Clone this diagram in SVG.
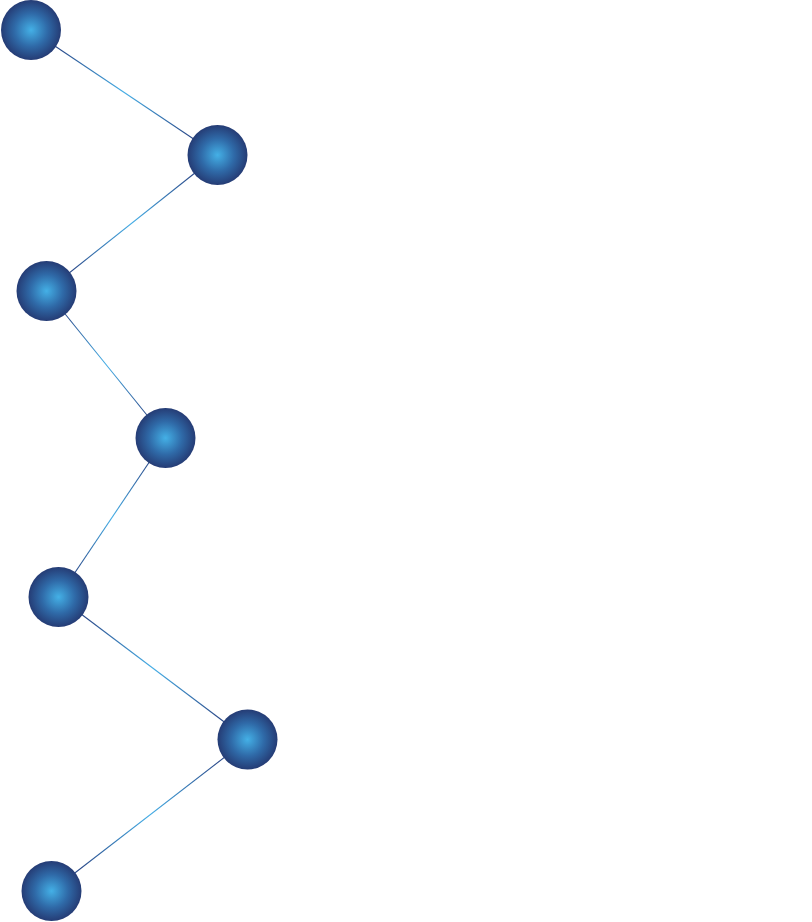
<svg xmlns="http://www.w3.org/2000/svg" width="812" height="922" viewBox="0 0 812 922">
<defs>
<radialGradient id="ball" cx="0.5" cy="0.5" r="0.5">
<stop offset="0" stop-color="#44b0e6"/>
<stop offset="0.55" stop-color="#2f6aa8"/>
<stop offset="1" stop-color="#253c75"/>
</radialGradient>
<linearGradient id="g1" gradientUnits="userSpaceOnUse" x1="31" y1="30" x2="217.5" y2="155"><stop offset="0.15" stop-color="#2a4a8a"/><stop offset="0.5" stop-color="#45aee6"/><stop offset="0.85" stop-color="#2a4a8a"/></linearGradient>
<linearGradient id="g2" gradientUnits="userSpaceOnUse" x1="217.5" y1="155" x2="46.5" y2="291"><stop offset="0.15" stop-color="#2a4a8a"/><stop offset="0.5" stop-color="#45aee6"/><stop offset="0.85" stop-color="#2a4a8a"/></linearGradient>
<linearGradient id="g3" gradientUnits="userSpaceOnUse" x1="46.5" y1="291" x2="165.5" y2="438"><stop offset="0.15" stop-color="#2a4a8a"/><stop offset="0.5" stop-color="#45aee6"/><stop offset="0.85" stop-color="#2a4a8a"/></linearGradient>
<linearGradient id="g4" gradientUnits="userSpaceOnUse" x1="165.5" y1="438" x2="58.5" y2="597"><stop offset="0.15" stop-color="#2a4a8a"/><stop offset="0.5" stop-color="#45aee6"/><stop offset="0.85" stop-color="#2a4a8a"/></linearGradient>
<linearGradient id="g5" gradientUnits="userSpaceOnUse" x1="58.5" y1="597" x2="247.5" y2="739.5"><stop offset="0.15" stop-color="#2a4a8a"/><stop offset="0.5" stop-color="#45aee6"/><stop offset="0.85" stop-color="#2a4a8a"/></linearGradient>
<linearGradient id="g6" gradientUnits="userSpaceOnUse" x1="247.5" y1="739.5" x2="51.5" y2="891"><stop offset="0.15" stop-color="#2a4a8a"/><stop offset="0.5" stop-color="#45aee6"/><stop offset="0.85" stop-color="#2a4a8a"/></linearGradient>
</defs>
<style>
.node circle{fill:url(#ball);}
.conn line{stroke-width:1.1;fill:none;}
</style>
<rect width="812" height="922" fill="#ffffff"/>
<g id="connectors" class="conn">
<line x1="31" y1="30" x2="217.5" y2="155" stroke="url(#g1)"/>
<line x1="217.5" y1="155" x2="46.5" y2="291" stroke="url(#g2)"/>
<line x1="46.5" y1="291" x2="165.5" y2="438" stroke="url(#g3)"/>
<line x1="165.5" y1="438" x2="58.5" y2="597" stroke="url(#g4)"/>
<line x1="58.5" y1="597" x2="247.5" y2="739.5" stroke="url(#g5)"/>
<line x1="247.5" y1="739.5" x2="51.5" y2="891" stroke="url(#g6)"/>
</g>
<g id="node1" class="node"><circle cx="31" cy="30" r="30"/></g>
<g id="node2" class="node"><circle cx="217.5" cy="155" r="30"/></g>
<g id="node3" class="node"><circle cx="46.5" cy="291" r="30"/></g>
<g id="node4" class="node"><circle cx="165.5" cy="438" r="30"/></g>
<g id="node5" class="node"><circle cx="58.5" cy="597" r="30"/></g>
<g id="node6" class="node"><circle cx="247.5" cy="739.5" r="30"/></g>
<g id="node7" class="node"><circle cx="51.5" cy="891" r="30"/></g>
</svg>
